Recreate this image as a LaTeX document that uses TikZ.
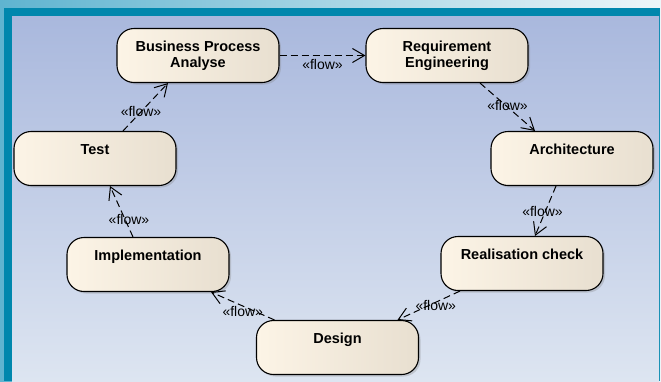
\documentclass[tikz,border=0pt]{standalone}
\usepackage{fontspec}
\setmainfont{Liberation Sans}
\usetikzlibrary{positioning,arrows.meta,shadows}
\definecolor{outerleft}{HTML}{5FB4D0}
\definecolor{outerright}{HTML}{EEF6F9}
\definecolor{frame}{HTML}{0087AD}
\definecolor{panetop}{HTML}{A9B8DD}
\definecolor{panebottom}{HTML}{DDE5F1}
\definecolor{boxleft}{HTML}{FCF4E6}
\definecolor{boxright}{HTML}{E8DFD0}

\begin{document}
\begin{tikzpicture}[x=1pt,y=-1pt,
  stage/.style={draw=black, line width=1.1pt, rounded corners=17pt,
    minimum width=162pt, minimum height=54pt,
    left color=boxleft, right color=boxright,
    drop shadow={shadow xshift=2pt,shadow yshift=-2pt,opacity=0.3}},
  stagetext/.style={font=\fontsize{14.5}{15.5}\selectfont\bfseries, align=center, inner sep=0pt},
  flow/.style={dash pattern=on 7pt off 4pt, line width=1pt,
    -{Straight Barb[length=12pt,width=14pt]}},
  flowlabel/.style={font=\fontsize{14}{16}\selectfont, inner sep=1pt}]
\useasboundingbox (0,0) rectangle (661,381);
\fill[left color=outerleft, right color=outerright] (0,0) rectangle (661,381);
\fill[frame] (4,8) rectangle (660,381);
\fill[top color=panetop, bottom color=panebottom] (12,16) rectangle (659,381);

\node[stage] (bpa) at (198,55.5) {};
\node[stagetext, below=13pt of bpa.north] (bpa-text) {Business Process\\Analyse};
\node[stage] (re) at (447,55.5) {};
\node[stagetext, below=13pt of re.north] (re-text) {Requirement\\Engineering};
\node[stage] (test) at (95,158.5) {};
\node[stagetext, below=13pt of test.north] (test-text) {Test};
\node[stage] (arch) at (572,158.5) {};
\node[stagetext, below=13pt of arch.north] (arch-text) {Architecture};
\node[stage] (impl) at (148,264.5) {};
\node[stagetext, below=13pt of impl.north] (impl-text) {Implementation};
\node[stage] (real) at (522,263.5) {};
\node[stagetext, below=13pt of real.north] (real-text) {Realisation check};
\node[stage] (design) at (337.5,347.5) {};
\node[stagetext, below=13pt of design.north] (design-text) {Design};

\draw[flow] (bpa.east) -- node[flowlabel, below=2pt] (f1) {«flow»} (re.west);
\draw[flow] ([xshift=33pt]re.south) -- node[flowlabel, yshift=2pt] (f2) {«flow»} ([xshift=-37pt]arch.north);
\draw[flow] ([xshift=-16pt]arch.south) -- node[flowlabel, xshift=-3pt] (f3) {«flow»} ([xshift=13pt]real.north);
\draw[flow] ([xshift=-62pt]real.south) -- node[flowlabel, xshift=7pt] (f4) {«flow»} ([xshift=60pt]design.north);
\draw[flow] ([xshift=-63pt]design.north) -- node[flowlabel, yshift=-5pt] (f5) {«flow»} ([xshift=63pt]impl.south);
\draw[flow] ([xshift=-15pt]impl.north) -- node[flowlabel, pos=0.35, xshift=4pt] (f6) {«flow»} ([xshift=15pt]test.south);
\draw[flow] ([xshift=28pt]test.north) -- node[flowlabel, pos=0.4] (f7) {«flow»} ([xshift=-30pt]bpa.south);
\end{tikzpicture}
\end{document}
